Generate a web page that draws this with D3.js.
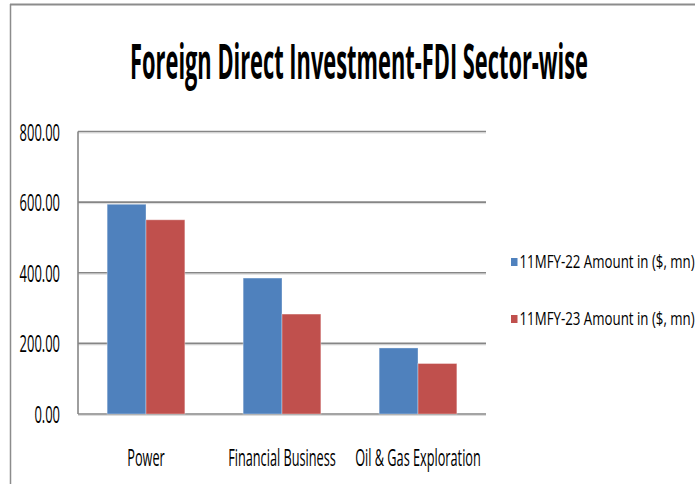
<!DOCTYPE html>
<html>
<head>
<meta charset="utf-8">
<script src="https://cdn.jsdelivr.net/npm/d3@7"></script>
<style>
  html, body { margin: 0; padding: 0; background: #fff; }
  svg { display: block; font-family: "Open Sans", "Liberation Sans", sans-serif; }
</style>
</head>
<body>
<div id="chart"></div>
<script>
// chart data
const categories = ['Power', 'Financial Business', 'Oil & Gas Exploration']
const seriesNames = ['11MFY-22 Amount in ($, mn)', '11MFY-23 Amount in ($, mn)']
const fy22 = [594, 385, 187]
const fy23 = [550, 283, 143]
const yTicks = [0, 200, 400, 600, 800]

const colors = ['#4f81bd', '#c0504d']
const width = 695
const height = 484
const plot = { left: 78, right: 486, top: 131.5, bottom: 414 }

// text in the reference is strongly condensed: squeeze horizontally with a transform
function squeeze(sel, k) {
  sel.each(function () {
    const t = d3.select(this)
    const tx = +t.attr('x'), ty = +t.attr('y')
    t.attr('x', 0).attr('y', 0).attr('transform', `translate(${tx},${ty}) scale(${k},1)`)
  })
}

const svg = d3.select('#chart').append('svg')
  .attr('width', width).attr('height', height)

svg.append('rect').attr('width', width).attr('height', height).attr('fill', '#fff')

// outer frame (top + left visible)
svg.append('line').attr('x1', 10).attr('x2', width).attr('y1', 4.5).attr('y2', 4.5)
  .attr('stroke', '#8c8c8c').attr('stroke-width', 2)
svg.append('line').attr('x1', 10.5).attr('x2', 10.5).attr('y1', 4).attr('y2', height)
  .attr('stroke', '#8c8c8c').attr('stroke-width', 1.5)

// title
svg.append('text').attr('x', 359).attr('y', 79)
  .attr('text-anchor', 'middle').attr('font-weight', 700).attr('font-size', 48)
  .attr('fill', '#000').text('Foreign Direct Investment-FDI Sector-wise')
  .call(squeeze, 0.455)

const x0 = d3.scaleBand().domain(categories).range([plot.left, plot.right])
  .paddingInner(0.4286).paddingOuter(0.2143)
const x1 = d3.scaleBand().domain(seriesNames).range([0, x0.bandwidth()])
const y = d3.scaleLinear().domain([0, 800]).range([plot.bottom, plot.top])

// gridlines
const grid = svg.append('g')
grid.selectAll('line.shadow').data(yTicks).join('line').attr('class', 'shadow')
  .attr('x1', plot.left).attr('x2', plot.right)
  .attr('y1', d => y(d) + 1.5).attr('y2', d => y(d) + 1.5)
  .attr('stroke', '#dcdcdc').attr('stroke-width', 1)
grid.selectAll('line.main').data(yTicks).join('line').attr('class', 'main')
  .attr('x1', plot.left).attr('x2', plot.right)
  .attr('y1', d => y(d)).attr('y2', d => y(d))
  .attr('stroke', '#868686').attr('stroke-width', 1.6)

// value axis line
svg.append('line').attr('x1', plot.left).attr('x2', plot.left)
  .attr('y1', y(800)).attr('y2', y(0))
  .attr('stroke', '#868686').attr('stroke-width', 1.6)

// y labels
svg.append('g').selectAll('text').data(yTicks).join('text')
  .attr('x', 60).attr('y', d => y(d) + 9)
  .attr('text-anchor', 'end').attr('font-size', 24).attr('fill', '#000')
  .text(d => d.toFixed(2))
  .call(squeeze, 0.54)

// bars
const rows = categories.map((c, i) => ({ cat: c, vals: [fy22[i], fy23[i]] }))
const groups = svg.append('g').selectAll('g').data(rows).join('g')
  .attr('transform', d => `translate(${x0(d.cat)},0)`)
groups.selectAll('rect').data(d => d.vals.map((v, j) => ({ s: seriesNames[j], v, j })))
  .join('rect')
  .attr('x', d => x1(d.s)).attr('width', x1.bandwidth())
  .attr('y', d => y(d.v)).attr('height', d => y(0) - y(d.v))
  .attr('fill', d => colors[d.j])
  .attr('stroke', 'rgba(255,255,255,0.35)').attr('stroke-width', 1)

// category labels
svg.append('g').selectAll('text').data(categories).join('text')
  .attr('x', d => x0(d) + x0.bandwidth() / 2).attr('y', 466)
  .attr('text-anchor', 'middle').attr('font-size', 24).attr('fill', '#000')
  .text(d => d)
  .call(squeeze, 0.53)

// legend
const legend = svg.append('g').selectAll('g').data(seriesNames).join('g')
  .attr('transform', (d, i) => `translate(511,${258 + i * 57})`)
legend.append('rect').attr('width', 6.5).attr('height', 8).attr('fill', (d, i) => colors[i])
legend.append('text').attr('x', 8.5).attr('y', 10)
  .attr('font-size', 19).attr('fill', '#000').text(d => d)
  .call(squeeze, 0.7)
</script>
</body>
</html>
